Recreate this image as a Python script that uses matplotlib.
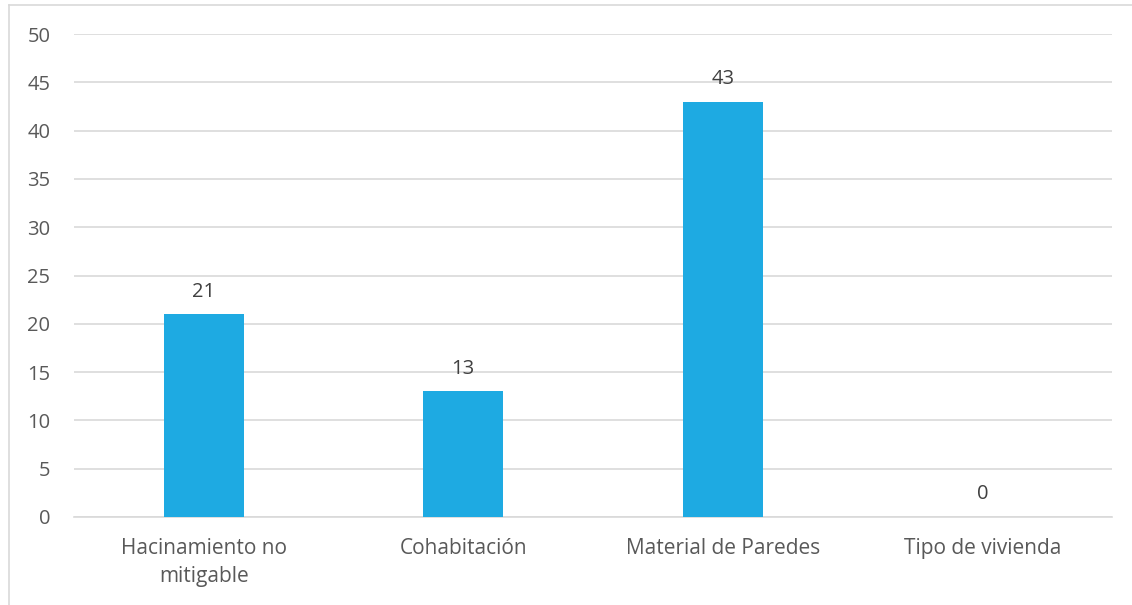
import numpy as np
from matplotlib import pyplot as plt
from matplotlib.lines import Line2D

categories = ["Hacinamiento no\nmitigable", "Cohabitación", "Material de Paredes", "Tipo de vivienda"]
values = [21, 13, 43, 0]
yticks = [0, 5, 10, 15, 20, 25, 30, 35, 40, 45, 50]

plt.rcParams['font.family'] = ['Open Sans', 'DejaVu Sans']

W, H = 1132, 605
fig = plt.figure(figsize=(W / 100, H / 100), dpi=100)
ax = fig.add_axes([74 / W, 1 - 517 / H, (1112 - 74) / W, (517 - 34) / H])

x = np.arange(len(categories))
bars = ax.bar(x, values, width=0.31, color="#1eaae2", zorder=3)

for xi, v in zip(x, values):
    ax.text(xi, v + 1.3, str(v), ha="center", va="bottom", fontsize=14.5, color="#404040")

ax.set_xlim(-0.5, len(categories) - 0.5)
ax.set_ylim(0, 50)
ax.set_yticks(yticks)
ax.set_xticks(x)
ax.set_xticklabels(categories, fontsize=15, color="#595959", linespacing=1.45)
ax.tick_params(axis="y", labelsize=14.5, labelcolor="#595959", length=0, pad=17)
ax.tick_params(axis="x", length=0, pad=15)
ax.yaxis.grid(True, color="#d9d9d9", linewidth=1.2, zorder=0)
for s in ["top", "right", "left"]:
    ax.spines[s].set_visible(False)
ax.spines["bottom"].set_color("#d9d9d9")
ax.spines["bottom"].set_linewidth(1.2)

# outer chart frame (left and top edges visible)
fig.add_artist(Line2D([9 / W, 9 / W], [0, 1 - 5 / H], color="#d9d9d9", linewidth=1.2))
fig.add_artist(Line2D([9 / W, 1], [1 - 5 / H, 1 - 5 / H], color="#d9d9d9", linewidth=1.2))

fig.savefig("out.png", dpi=100)
